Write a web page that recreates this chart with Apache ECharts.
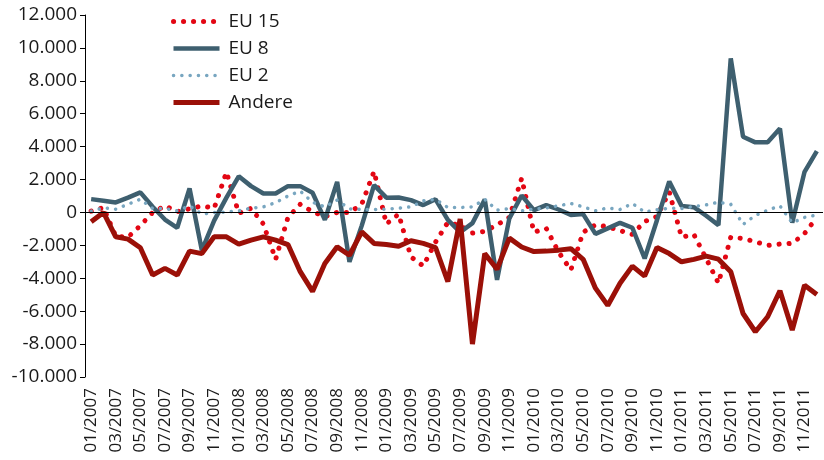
<!DOCTYPE html>
<html lang="de">

<head>
    <meta charset="UTF-8">
    <title>Saldo</title>
    <style>
        html,
        body,
        #chart {
            margin: 0;
            padding: 0;
            overflow: hidden;
            width: 100%;
            height: 100%;
            background: #fff;
        }
    </style>
</head>

<body>
    <div id="chart"></div>
    <script src="https://cdn.jsdelivr.net/npm/echarts@6/dist/echarts.min.js"></script>
    <script>
        var months = [
            '01/2007', '02/2007', '03/2007', '04/2007', '05/2007', '06/2007', '07/2007', '08/2007', '09/2007', '10/2007', '11/2007', '12/2007',
            '01/2008', '02/2008', '03/2008', '04/2008', '05/2008', '06/2008', '07/2008', '08/2008', '09/2008', '10/2008', '11/2008', '12/2008',
            '01/2009', '02/2009', '03/2009', '04/2009', '05/2009', '06/2009', '07/2009', '08/2009', '09/2009', '10/2009', '11/2009', '12/2009',
            '01/2010', '02/2010', '03/2010', '04/2010', '05/2010', '06/2010', '07/2010', '08/2010', '09/2010', '10/2010', '11/2010', '12/2010',
            '01/2011', '02/2011', '03/2011', '04/2011', '05/2011', '06/2011', '07/2011', '08/2011', '09/2011', '10/2011', '11/2011', '12/2011'
        ];

        var eu15 = [
            80, 300, -1450, -1500, -800, 0, 400, 50, 220, 400,
            250, 2450, -50, 250, -700, -2850, -300, 500, 50, -250,
            0, 0, 500, 2500, -700, -100, -2700, -3250, -1800, -600,
            -800, -1250, -1150, -750, -300, 2070, -1200, -970, -2400, -3500,
            -1200, -750, -870, -1100, -1330, -550, -250, 1250, -1500, -1340,
            -2800, -4300, -1500, -1580, -1780, -2000, -1920, -1880, -1280, -300
        ];
        var eu8 = [
            810, 710, 610, 900, 1220, 350, -430, -930, 1460, -2300,
            -500, 900, 2200, 1600, 1150, 1150, 1600, 1600, 1200, -450,
            1860, -3000, -800, 1660, 900, 910, 750, 450, 800, -450,
            -1200, -650, 790, -4100, -360, 1030, 140, 450, 180, -150,
            -100, -1300, -970, -630, -930, -2800, -470, 1880, 400, 320,
            -200, -770, 9360, 4600, 4260, 4260, 5100, -630, 2470, 3730
        ];
        var eu2 = [
            80, 280, 200, 500, 800, 240, 240, 100, 400, -100,
            0, 20, 100, 260, 340, 600, 1000, 1300, 620, 340,
            750, 220, 180, 180, 200, 260, 340, 700, 800, 300,
            300, 340, 800, 140, 240, 100, 200, 280, 400, 550,
            340, 100, 280, 180, 550, 20, 160, 260, 240, 360,
            460, 620, 500, -730, -180, 140, 400, -630, -300, -160
        ];
        var andere = [
            -570, 0, -1480, -1620, -2150, -3800, -3400, -3800, -2350, -2500,
            -1480, -1480, -1920, -1680, -1480, -1680, -1950, -3600, -4800, -3100,
            -2090, -2600, -1180, -1880, -1950, -2050, -1720, -1880, -2130, -4200,
            -400, -8000, -2500, -3450, -1560, -2100, -2380, -2350, -2290, -2200,
            -2850, -4600, -5650, -4300, -3260, -3870, -2130, -2500, -3000, -2850,
            -2650, -2840, -3600, -6140, -7250, -6340, -4760, -7150, -4420, -4980
        ];

        var font = '"Open Sans", "Noto Sans", sans-serif';

        // Linienstile, gemeinsam fuer Serie und Legende
        var styles = {
            'EU 15': { color: '#e30613', width: 5, type: [0.1, 9.9], cap: 'round' },
            'EU 8': { color: '#3e5f6f', width: 4.5, type: 'solid', cap: 'butt' },
            'EU 2': { color: '#78a6c0', width: 3.5, type: [0.1, 8.2], cap: 'round' },
            'Andere': { color: '#9b1008', width: 5, type: 'solid', cap: 'butt' }
        };

        function deNumber(v) {
            return String(v).replace(/\B(?=(\d{3})+(?!\d))/g, '.');
        }

        function legendItem(name) {
            return {
                name: name,
                itemStyle: { opacity: 0 },
                lineStyle: styles[name]
            };
        }

        function lineSeries(name, values) {
            return {
                name: name,
                type: 'line',
                data: values,
                symbol: 'none',
                lineStyle: styles[name],
                itemStyle: { color: styles[name].color }
            };
        }

        var chart = echarts.init(document.getElementById('chart'), null, { renderer: 'canvas' });

        var series = [
            lineSeries('EU 15', eu15),
            lineSeries('EU 8', eu8),
            lineSeries('EU 2', eu2),
            lineSeries('Andere', andere)
        ];
        // Nulllinie
        series[0].markLine = {
            silent: true,
            symbol: 'none',
            label: { show: false },
            lineStyle: { color: '#000', width: 1, type: 'solid' },
            data: [{ yAxis: 0 }]
        };

        chart.setOption({
            animation: false,
            backgroundColor: '#fff',
            textStyle: { fontFamily: font },
            grid: {
                left: 85,
                right: 1,
                top: 15,
                bottom: 83
            },
            legend: {
                orient: 'vertical',
                left: 166,
                top: 7,
                itemWidth: 46,
                itemHeight: 14,
                itemGap: 8,
                textStyle: {
                    fontFamily: font,
                    fontSize: 19,
                    lineHeight: 19,
                    color: '#1a1a1a',
                    padding: [0, 0, 0, 4]
                },
                data: ['EU 15', 'EU 8', 'EU 2', 'Andere'].map(legendItem)
            },
            xAxis: {
                type: 'category',
                data: months,
                boundaryGap: true,
                axisLine: { show: false, onZero: false },
                axisTick: { show: false },
                axisLabel: {
                    rotate: 90,
                    interval: 1,
                    margin: 11,
                    fontFamily: font,
                    fontSize: 17,
                    color: '#1a1a1a'
                }
            },
            yAxis: {
                type: 'value',
                min: -10000,
                max: 12000,
                interval: 2000,
                axisLine: { show: true, lineStyle: { color: '#000', width: 1 } },
                axisTick: { show: true, length: 5, lineStyle: { color: '#000' } },
                splitLine: { show: false },
                axisLabel: {
                    margin: 8,
                    fontFamily: font,
                    fontSize: 19,
                    color: '#1a1a1a',
                    formatter: deNumber
                }
            },
            series: series
        });
    </script>
</body>

</html>
